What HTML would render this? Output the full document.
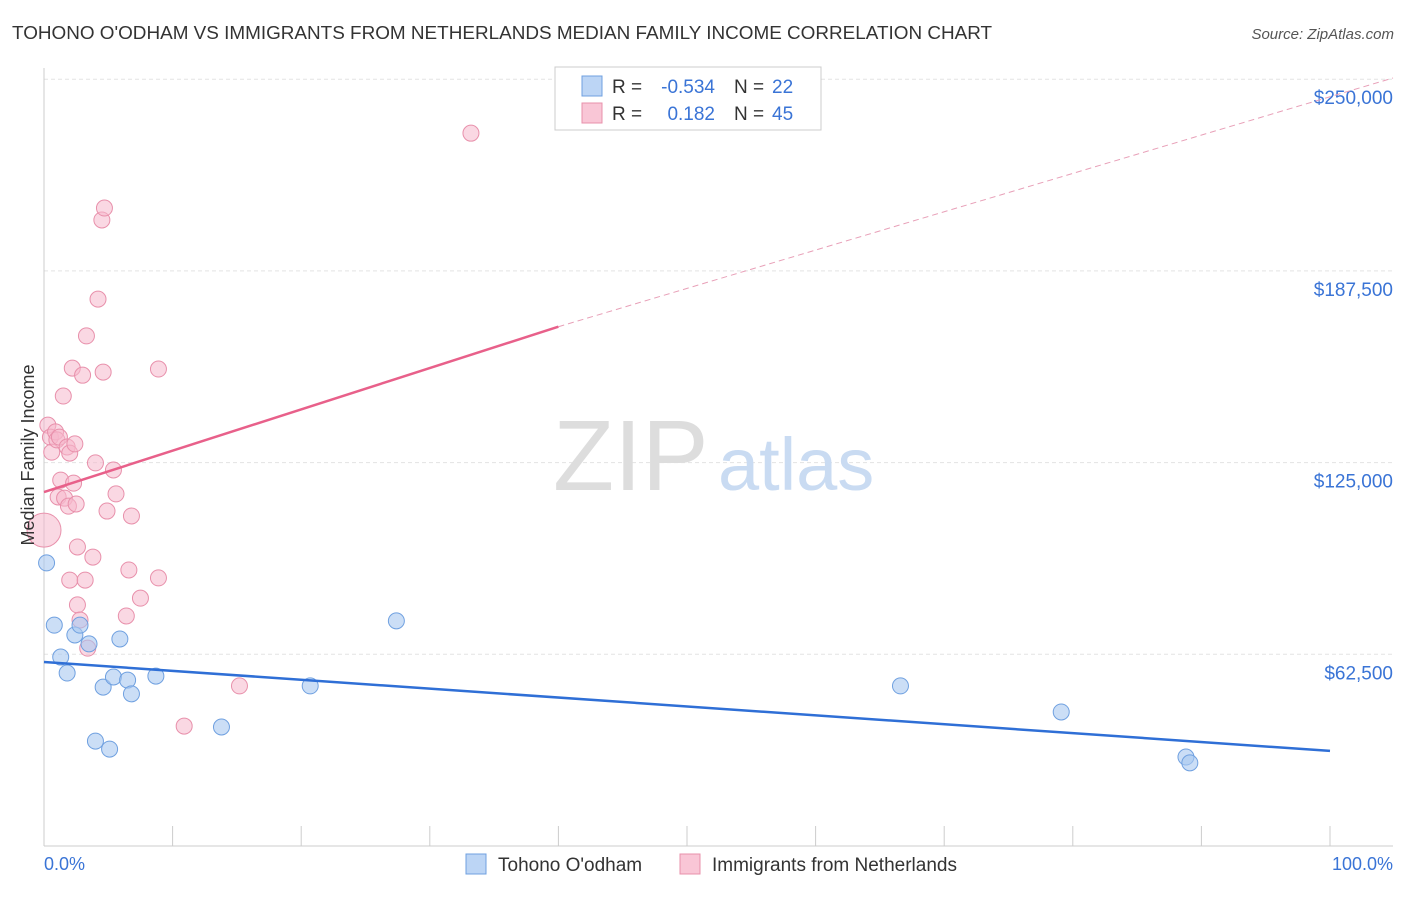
<!DOCTYPE html>
<html><head><meta charset="utf-8"><style>
body{margin:0;background:#fff;font-family:"Liberation Sans",sans-serif;}
svg text{font-family:"Liberation Sans",sans-serif;}
</style></head><body>
<svg width="1406" height="892" viewBox="0 0 1406 892">
<text x="12" y="39" font-size="18.9" fill="#333">TOHONO O'ODHAM VS IMMIGRANTS FROM NETHERLANDS MEDIAN FAMILY INCOME CORRELATION CHART</text>
<text x="1394" y="39" font-size="15" fill="#555" font-style="italic" text-anchor="end">Source: ZipAtlas.com</text>
<g id="grid"></g>
<text x="553" y="490" font-size="100" fill="#ddd" font-family="Liberation Serif">ZIP</text>
<text x="718" y="490" font-size="74" fill="#c9dbf2">atlas</text>
<line x1="44" y1="68" x2="44" y2="846" stroke="#ccc"/>
<line x1="44" y1="846" x2="1393" y2="846" stroke="#ccc"/>
<g id="xticks"></g>
<g id="points"></g>
<g id="lines"></g>
<text x="34" y="455" font-size="18" fill="#333" transform="rotate(-90 34 455)" text-anchor="middle">Median Family Income</text>
<text x="44" y="870" font-size="18" fill="#3a74d6">0.0%</text>
<text x="1393" y="870" font-size="18" fill="#3a74d6" text-anchor="end">100.0%</text>
<g>
<rect x="555" y="67" width="266" height="63" fill="#fff" stroke="#ccc"/>
<rect x="582" y="76" width="20" height="20" fill="#bcd5f5" stroke="#6fa0e0"/>
<rect x="582" y="103" width="20" height="20" fill="#f9c6d6" stroke="#e890ab"/>
<text x="612" y="93" font-size="19" fill="#333">R =</text>
<text x="715" y="93" font-size="19" fill="#3a74d6" text-anchor="end">-0.534</text>
<text x="734" y="93" font-size="19" fill="#333">N =</text>
<text x="772" y="93" font-size="19" fill="#3a74d6">22</text>
<text x="612" y="120" font-size="19" fill="#333">R =</text>
<text x="715" y="120" font-size="19" fill="#3a74d6" text-anchor="end">0.182</text>
<text x="734" y="120" font-size="19" fill="#333">N =</text>
<text x="772" y="120" font-size="19" fill="#3a74d6">45</text>
</g>
<g>
<rect x="466" y="854" width="20" height="20" fill="#bcd5f5" stroke="#6fa0e0"/>
<text x="498" y="871" font-size="19" fill="#333">Tohono O'odham</text>
<rect x="680" y="854" width="20" height="20" fill="#f9c6d6" stroke="#e890ab"/>
<text x="712" y="871" font-size="19" fill="#333">Immigrants from Netherlands</text>
</g>
</svg>
<script>
const yTicks=[62500,125000,187500,250000];
const yTickLabels=["$62,500","$125,000","$187,500","$250,000"];
const blueX=[0.2,0.8,1.3,1.8,2.4,2.8,3.5,4.0,4.6,5.1,5.4,5.9,6.5,6.8,8.7,13.8,20.7,27.4,66.6,79.1,88.8,89.1];
const blueY=[92.3,72.0,61.6,56.4,68.8,72.0,65.9,34.2,51.8,31.6,55.1,67.5,54.1,49.6,55.4,38.8,52.2,73.4,52.2,43.7,29.0,27.1];
const pinkX=[0,0.3,0.5,0.6,0.9,1.0,1.1,1.2,1.3,1.5,1.6,1.8,1.9,2.0,2.0,2.2,2.3,2.4,2.5,2.6,2.6,2.8,3.0,3.2,3.3,3.4,3.8,4.0,4.2,4.5,4.6,4.7,4.9,5.4,5.6,6.4,6.6,6.8,7.5,8.9,8.9,10.9,15.2,33.2];
const pinkY=[103.0,137.2,133.3,128.4,135.0,132.4,113.8,133.3,119.3,146.7,113.4,130.1,110.8,128.1,86.7,155.8,118.3,131.1,111.5,78.6,97.5,73.7,153.5,86.7,166.3,64.5,94.2,124.9,178.3,204.1,154.5,208.0,109.2,122.6,114.8,75.0,90.0,107.6,80.8,155.5,87.4,39.1,52.2,232.4];
const blueTrend=[[0,60.0],[100,31.0]];
const pinkTrend=[[0,115.4],[40,169.3],[104.9,250.4]];
const NS="http://www.w3.org/2000/svg";
const xs=p=>44+p*12.86;
const ys=k=>846-k*1000*191.7/62500;
function mk(t,a,parent){const e=document.createElementNS(NS,t);for(const k in a)e.setAttribute(k,a[k]);document.getElementById(parent).appendChild(e);return e;}
yTicks.forEach((v,i)=>{
 const l=mk('line',{x1:44,x2:1393,y1:ys(v/1000),y2:ys(v/1000),stroke:'#e3e3e3','stroke-dasharray':'4,3'},'grid');
 
 
 const t=mk('text',{x:1393,y:ys(v/1000)+25,'font-size':19,fill:'#3a74d6','text-anchor':'end'},'grid');
 t.textContent=yTickLabels[i];
 
 
});
for(let i=0;i<=10;i++){
 const l=mk('line',{x1:xs(i*10),x2:xs(i*10),y1:826,y2:846,stroke:'#ccc'},'xticks');
 
 
}
pinkX.forEach((x,i)=>{
 const c=mk('circle',{cx:xs(x),cy:ys(pinkY[i]),r:i==0?17:8,fill:'#f5b8cc','fill-opacity':0.55,stroke:'#e890ab','stroke-width':1},'points');
 
 
});
blueX.forEach((x,i)=>{
 const c=mk('circle',{cx:xs(x),cy:ys(blueY[i]),r:8,fill:'#a8c8f0','fill-opacity':0.6,stroke:'#6fa0e0','stroke-width':1},'points');
 
 
});
const bl=mk('line',{x1:xs(blueTrend[0][0]),y1:ys(blueTrend[0][1]),x2:xs(blueTrend[1][0]),y2:ys(blueTrend[1][1]),stroke:'#2f6fd6','stroke-width':2.5},'lines');


const pl=mk('line',{x1:xs(pinkTrend[0][0]),y1:ys(pinkTrend[0][1]),x2:xs(pinkTrend[1][0]),y2:ys(pinkTrend[1][1]),stroke:'#e8608a','stroke-width':2.5},'lines');


const pd=mk('line',{x1:xs(pinkTrend[1][0]),y1:ys(pinkTrend[1][1]),x2:xs(pinkTrend[2][0]),y2:ys(pinkTrend[2][1]),stroke:'#e8a0b8','stroke-width':1,'stroke-dasharray':'6,4'},'lines');


</script>
</body></html>
